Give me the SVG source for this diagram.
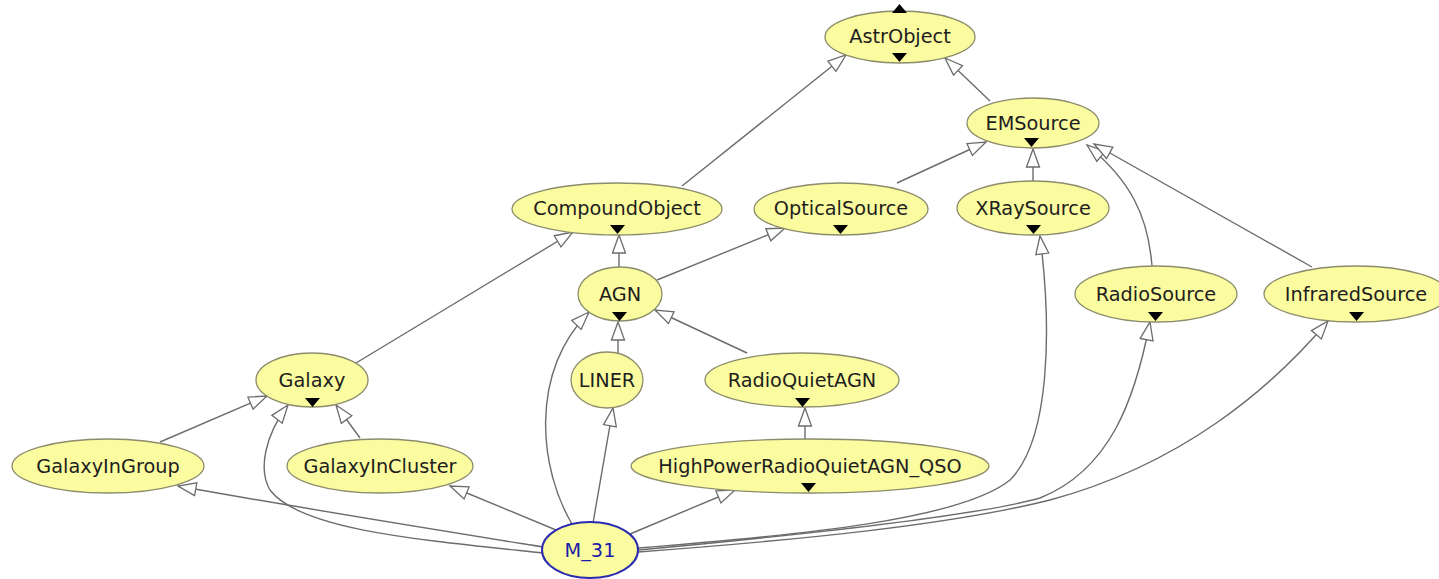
<svg xmlns="http://www.w3.org/2000/svg" width="1439" height="579" viewBox="0 0 1439 579">
<defs>
<marker id="arr" markerUnits="userSpaceOnUse" markerWidth="22" markerHeight="18" viewBox="-1 -9 22 18" refX="18" refY="0" orient="auto">
<path d="M0,-6.5 L18,0 L0,6.5 Z" fill="#ffffff" stroke="#6c6c6c" stroke-width="1.3"/>
</marker>
<style>
.n{fill:#fbfb9f;stroke:#8c8c6c;stroke-width:1.3}
.m{fill:#fbfb9f;stroke:#2b2bb0;stroke-width:2}
.t{font-family:"DejaVu Sans","Liberation Sans",sans-serif;font-size:19.3px;fill:#1e1e1e;text-anchor:middle}
.tm{font-family:"DejaVu Sans","Liberation Sans",sans-serif;font-size:19.3px;fill:#1c1ca8;text-anchor:middle}
.tri{fill:#000}
.e{fill:none;stroke:#6c6c6c;stroke-width:1.4;marker-end:url(#arr)}
</style>
</defs>
<rect width="1439" height="579" fill="#ffffff"/>
<g id="connectors">
<path class="e" d="M682,186 L846,55"/>
<path class="e" d="M990,101 L945,58"/>
<path class="e" d="M897,183 L986,142"/>
<path class="e" d="M1033,181 L1033,149"/>
<path class="e" d="M1152,266 C1148,215 1130,180 1087,145"/>
<path class="e" d="M1312,267 L1094,144"/>
<path class="e" d="M619,267 L619,235"/>
<path class="e" d="M657,280 L785,228"/>
<path class="e" d="M356,363 L573,232"/>
<path class="e" d="M618,353 L618,322"/>
<path class="e" d="M747,353 L655,310"/>
<path class="e" d="M160,442 L267,396"/>
<path class="e" d="M360,438 L336,405"/>
<path class="e" d="M805,440 L805,408"/>
<path class="e" d="M543,547 C450,532 300,508 178,486"/>
<path class="e" d="M543,553 C420,540 300,530 270,490 C258,470 265,435 288,405"/>
<path class="e" d="M556,530 L450,486"/>
<path class="e" d="M572,524 C540,470 528,375 589,312"/>
<path class="e" d="M593,523 L613,408"/>
<path class="e" d="M630,534 L735,490"/>
<path class="e" d="M638,548 C800,535 960,520 1010,480 C1050,440 1052,330 1040,236"/>
<path class="e" d="M638,550 C800,535 980,515 1040,498 C1110,470 1135,400 1150,322"/>
<path class="e" d="M638,552 C800,540 950,525 1050,500 C1180,465 1270,390 1328,321"/>
</g>
<g id="AstrObject">
<ellipse class="n" cx="900" cy="37" rx="75" ry="26"/>
<text class="t" x="900" y="43">AstrObject</text>
<path class="tri" d="M892,13 L907,13 L899.5,4 Z"/>
<path class="tri" d="M892,53 L907,53 L899.5,62 Z"/>
</g>
<g id="EMSource">
<ellipse class="n" cx="1033" cy="123" rx="66" ry="25"/>
<text class="t" x="1033" y="130">EMSource</text>
<path class="tri" d="M1024,138 L1039,138 L1031.5,147 Z"/>
</g>
<g id="CompoundObject">
<ellipse class="n" cx="617" cy="209" rx="105" ry="26"/>
<text class="t" x="617" y="215">CompoundObject</text>
<path class="tri" d="M610,225 L625,225 L617.5,234 Z"/>
</g>
<g id="OpticalSource">
<ellipse class="n" cx="841" cy="209" rx="87" ry="26"/>
<text class="t" x="841" y="215">OpticalSource</text>
<path class="tri" d="M833,225 L848,225 L840.5,234 Z"/>
</g>
<g id="XRaySource">
<ellipse class="n" cx="1033" cy="208" rx="76" ry="27"/>
<text class="t" x="1033" y="215">XRaySource</text>
<path class="tri" d="M1026,225 L1041,225 L1033.5,234 Z"/>
</g>
<g id="AGN">
<ellipse class="n" cx="620" cy="294" rx="42" ry="27"/>
<text class="t" x="620" y="301">AGN</text>
<path class="tri" d="M612,312 L627,312 L619.5,321 Z"/>
</g>
<g id="RadioSource">
<ellipse class="n" cx="1156" cy="294" rx="81" ry="28"/>
<text class="t" x="1156" y="301">RadioSource</text>
<path class="tri" d="M1148,312 L1163,312 L1155.5,321 Z"/>
</g>
<g id="InfraredSource">
<ellipse class="n" cx="1356" cy="294" rx="92" ry="28"/>
<text class="t" x="1356" y="301">InfraredSource</text>
<path class="tri" d="M1349,312 L1364,312 L1356.5,321 Z"/>
</g>
<g id="Galaxy">
<ellipse class="n" cx="312" cy="380" rx="56" ry="27"/>
<text class="t" x="312" y="387">Galaxy</text>
<path class="tri" d="M305,398 L320,398 L312.5,407 Z"/>
</g>
<g id="LINER">
<ellipse class="n" cx="607" cy="380" rx="36" ry="28"/>
<text class="t" x="607" y="387">LINER</text>
</g>
<g id="RadioQuietAGN">
<ellipse class="n" cx="802" cy="380" rx="97" ry="27"/>
<text class="t" x="802" y="387">RadioQuietAGN</text>
<path class="tri" d="M795,398 L810,398 L802.5,407 Z"/>
</g>
<g id="GalaxyInGroup">
<ellipse class="n" cx="108" cy="466" rx="96" ry="27"/>
<text class="t" x="108" y="473">GalaxyInGroup</text>
</g>
<g id="GalaxyInCluster">
<ellipse class="n" cx="380" cy="466" rx="93" ry="27"/>
<text class="t" x="380" y="473">GalaxyInCluster</text>
</g>
<g id="HighPowerRadioQuietAGN_QSO">
<ellipse class="n" cx="810" cy="466" rx="179" ry="27"/>
<text class="t" x="810" y="473">HighPowerRadioQuietAGN_QSO</text>
<path class="tri" d="M801,483 L816,483 L808.5,492 Z"/>
</g>
<g id="M_31">
<ellipse class="m" cx="590" cy="550" rx="48" ry="28"/>
<text class="tm" x="590" y="557">M_31</text>
</g>
</svg>
